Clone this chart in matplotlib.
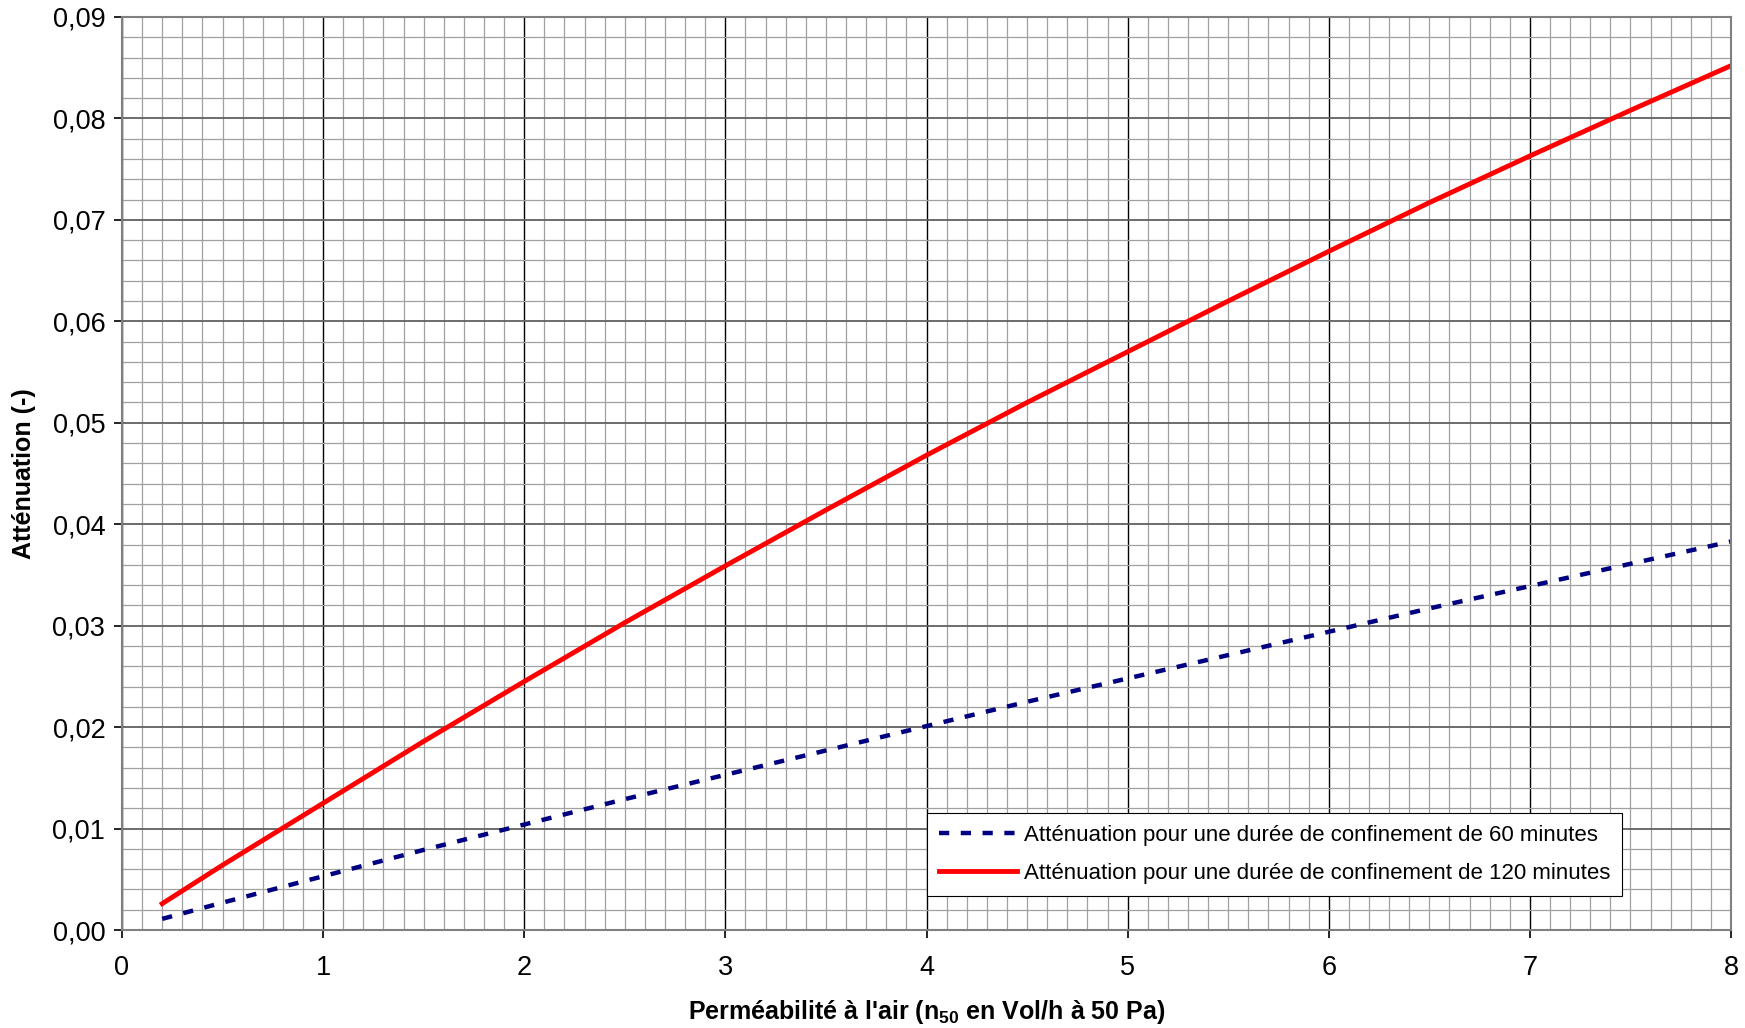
import matplotlib
matplotlib.use("Agg")
import matplotlib.pyplot as plt
from matplotlib.ticker import MultipleLocator, FuncFormatter

# Data
n50 = [0.2, 0.5, 1.0, 1.5, 2.0, 2.5, 3.0, 3.5, 4.0, 4.5, 5.0, 5.5, 6.0, 6.5, 7.0, 7.5, 8.0]
att_60 = [0.0011, 0.0027, 0.0053, 0.0079, 0.0104, 0.0129, 0.0153, 0.0177, 0.0201,
          0.0225, 0.0248, 0.0271, 0.0294, 0.0317, 0.0339, 0.0361, 0.0383]
att_120 = [0.0026, 0.0064, 0.0125, 0.0186, 0.0245, 0.0303, 0.0359, 0.0414, 0.0468,
           0.0520, 0.0570, 0.0620, 0.0669, 0.0717, 0.0763, 0.0808, 0.0852]
label_60 = "Atténuation pour une durée de confinement de 60 minutes"
label_120 = "Atténuation pour une durée de confinement de 120 minutes"
xlabel = r"Perméabilité à l'air (n$_{\mathbf{50}}$ en Vol/h à 50 Pa)"
ylabel = "Atténuation (-)"

plt.rcParams['font.family'] = ['Liberation Sans', 'DejaVu Sans']
plt.rcParams['mathtext.fontset'] = 'custom'
plt.rcParams['mathtext.rm'] = 'Liberation Sans:bold'
plt.rcParams['mathtext.bf'] = 'Liberation Sans:bold'

fig = plt.figure(figsize=(17.45, 10.28), dpi=100)
ax = fig.add_axes([0.0699, 0.0953, 0.9221, 0.8882])

ax.set_xlim(0, 8)
ax.set_ylim(0, 0.09)
ax.xaxis.set_major_locator(MultipleLocator(1))
ax.xaxis.set_minor_locator(MultipleLocator(0.1))
ax.yaxis.set_major_locator(MultipleLocator(0.01))
ax.yaxis.set_minor_locator(MultipleLocator(0.002))
ax.yaxis.set_major_formatter(FuncFormatter(lambda v, p: f"{v:.2f}".replace('.', ',')))
ax.xaxis.set_major_formatter(FuncFormatter(lambda v, p: f"{v:.0f}"))

ax.grid(which='minor', color='#a0a0a0', linewidth=0.9)
ax.grid(which='major', axis='x', color='#000000', linewidth=1.0)
ax.grid(which='major', axis='y', color='#606060', linewidth=1.3)
ax.set_axisbelow(True)

for s in ax.spines.values():
    s.set_color('#808080')
    s.set_linewidth(1.5)

ax.tick_params(which='major', direction='out', length=6, width=1.2, color='#000000',
               labelsize=19.5, pad=6)
ax.tick_params(which='minor', length=0)
ax.tick_params(axis='x', pad=12)

ax.plot(n50, att_60, color='#000080', linewidth=3.2, dashes=(2.3, 2.6), label=label_60)
ax.plot(n50, att_120, color='#ff0000', linewidth=3.5, label=label_120)

ax.set_xlabel(xlabel, fontsize=18, fontweight='bold', labelpad=12)
ax.set_ylabel(ylabel, fontsize=18, fontweight='bold', labelpad=12)

leg = ax.legend(loc='lower left', bbox_to_anchor=(0.4935, 0.025), fontsize=16,
                frameon=True, fancybox=False, framealpha=1, edgecolor='#000000',
                handlelength=3.5, borderpad=0.55, labelspacing=0.75, handletextpad=0.3)
leg.get_frame().set_linewidth(0.8)

fig.savefig("out.png", dpi=100)
